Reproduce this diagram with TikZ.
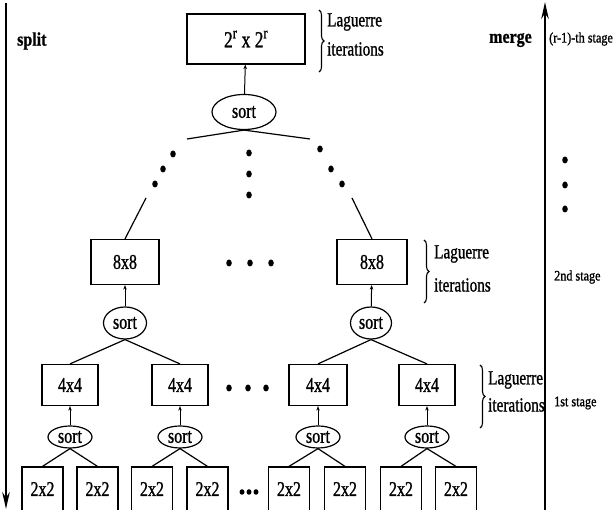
\documentclass[tikz,border=0pt]{standalone}
\usepackage{fontspec}
\setmainfont{Liberation Serif}[FakeBold=1.2]
\usepackage{graphicx}
\usetikzlibrary{arrows.meta,decorations.pathreplacing,shapes.geometric}
\newcommand{\cnd}[1]{\scalebox{0.76}[1]{#1}}
\newcommand{\cnds}[1]{\scalebox{0.84}[1]{#1}}
\begin{document}
\begin{tikzpicture}[x=1pt,y=-1pt,
  box/.style={draw,line width=1.2pt,inner sep=0pt,font=\fontsize{21}{24}\selectfont},
  sortnode/.style={draw,ellipse,line width=1.2pt,inner sep=0pt,font=\fontsize{21}{24}\selectfont},
  conn/.style={line width=1.2pt},
  up/.style={line width=1pt,-{Stealth[length=4.5pt,width=3.5pt]}},
  bigarrow/.style={line width=2.2pt,-{Stealth[length=17pt,width=7.5pt]}},
  lab/.style={inner sep=0pt,anchor=west,font=\fontsize{20}{22}\selectfont},
  stagelab/.style={inner sep=0pt,anchor=west,font=\fontsize{14.5}{17}\selectfont},
  side/.style={inner sep=0pt,anchor=west,font=\fontsize{19}{22}\selectfont\bfseries},
  brc/.style={line width=1.1pt,decorate,decoration={brace,amplitude=5pt}},
  dot/.style={fill=black,draw=none,ellipse,inner sep=0pt,minimum width=5.5pt,minimum height=7pt}]
\useasboundingbox (0,0) rectangle (614,510);
\fill[white] (0,0) rectangle (614,510);

% side arrows
\coordinate (ltop) at (6,3);
\coordinate (lbot) at (6,509);
\draw[bigarrow] (ltop) -- (lbot);
\coordinate (rbot) at (545,510);
\coordinate (rtop) at (545,2);
\draw[bigarrow] (rbot) -- (rtop);
\node[side] (split) at (17,41) {\cnds{split}};
\node[side] (merge) at (489,40) {\cnds{merge}};
\node[stagelab] (rst) at (549,39) {\cnds{(r-1)-th stage}};
\node[stagelab] (nd) at (554,277) {\cnds{2nd stage}};
\node[stagelab] (st) at (554,403) {\cnds{1st stage}};
\node[dot] (vd1) at (565,160) {};
\node[dot] (vd2) at (565,185) {};
\node[dot] (vd3) at (565,209) {};

% top level
\node[box,minimum width=118pt,minimum height=50pt,font=\fontsize{23}{26}\selectfont] (T) at (246,39) {\cnd{2\textsuperscript{r} x 2\textsuperscript{r}}};
\node[sortnode,minimum width=64pt,minimum height=35pt] (S0) at (244,112) {\cnd{sort}};
\draw[up] (S0) -- (T);
\coordinate (tl) at (187,139);
\coordinate (tr) at (310,139);
\draw[conn] (S0.south) -- (tl);
\draw[conn] (S0.south) -- (tr);
\draw[brc] (319,10) -- (319,72);
\node[lab] (lg0) at (327,22) {\cnd{Laguerre}};
\node[lab] (it0) at (327,49) {\cnd{iterations}};

% dots
\node[dot] (d1) at (173,154) {};
\node[dot] (d2) at (163,169) {};
\node[dot] (d3) at (155,184) {};
\node[dot] (d4) at (249,153) {};
\node[dot] (d5) at (249,174) {};
\node[dot] (d6) at (249,195) {};
\node[dot] (d7) at (320,149) {};
\node[dot] (d8) at (331,169) {};
\node[dot] (d9) at (342,184) {};

% 8x8 level
\node[box,minimum width=68pt,minimum height=45pt] (L8) at (125,262) {\cnd{8x8}};
\node[box,minimum width=70pt,minimum height=45pt] (R8) at (372,262) {\cnd{8x8}};
\coordinate (ll) at (146,198);
\coordinate (rl) at (352,198);
\draw[conn] (ll) -- (L8.north);
\draw[conn] (rl) -- (R8.north);
\node[dot] (e1) at (229,263) {};
\node[dot] (e2) at (250,263) {};
\node[dot] (e3) at (271,263) {};
\draw[brc] (424,240) -- (424,303);
\node[lab] (lg1) at (434,254) {\cnd{Laguerre}};
\node[lab] (it1) at (434,285) {\cnd{iterations}};
\node[sortnode,minimum width=43pt,minimum height=32pt] (LS) at (125,323) {\cnd{sort}};
\node[sortnode,minimum width=41pt,minimum height=32pt] (RS) at (371,323) {\cnd{sort}};
\draw[up] (LS) -- (L8);
\draw[up] (RS) -- (R8);

% 4x4 level
\foreach \n/\x/\w in {A/70/56,B/180/56,C/318/58,D/427/56}{
  \node[box,minimum width=\w pt,minimum height=41pt] (\n) at (\x,385) {\cnd{4x4}};
  \node[sortnode,minimum width=44pt,minimum height=22pt] (s\n) at (\x,437) {\cnd{sort}};
  \draw[up] (s\n) -- (\n);
}
\draw[conn] (LS.south) -- (A.north);
\draw[conn] (LS.south) -- (B.north);
\draw[conn] (RS.south) -- (C.north);
\draw[conn] (RS.south) -- (D.north);
\node[dot] (f1) at (229,388) {};
\node[dot] (f2) at (248,388) {};
\node[dot] (f3) at (266,388) {};
\draw[brc] (480,365) -- (480,428);
\node[lab] (lg2) at (488,380) {\cnd{Laguerre}};
\node[lab] (it2) at (488,405) {\cnd{iterations}};

% 2x2 level
\foreach \n/\x in {b1/42.5,b2/97.5,b3/152,b4/207.5,b5/289,b6/345,b7/401,b8/456}{
  \node[box,minimum width=41pt,minimum height=46pt,text depth=0pt] (\n) at (\x,490) {\raisebox{2pt}{\cnd{2x2}}};
}
\draw[conn] (sA.south) -- (b1.north);
\draw[conn] (sA.south) -- (b2.north);
\draw[conn] (sB.south) -- (b3.north);
\draw[conn] (sB.south) -- (b4.north);
\draw[conn] (sC.south) -- (b5.north);
\draw[conn] (sC.south) -- (b6.north);
\draw[conn] (sD.south) -- (b7.north);
\draw[conn] (sD.south) -- (b8.north);
\node[dot,minimum width=5pt,minimum height=5.5pt] (g1) at (242,492) {};
\node[dot,minimum width=5pt,minimum height=5.5pt] (g2) at (249,492) {};
\node[dot,minimum width=5pt,minimum height=5.5pt] (g3) at (256,492) {};
\end{tikzpicture}
\end{document}
